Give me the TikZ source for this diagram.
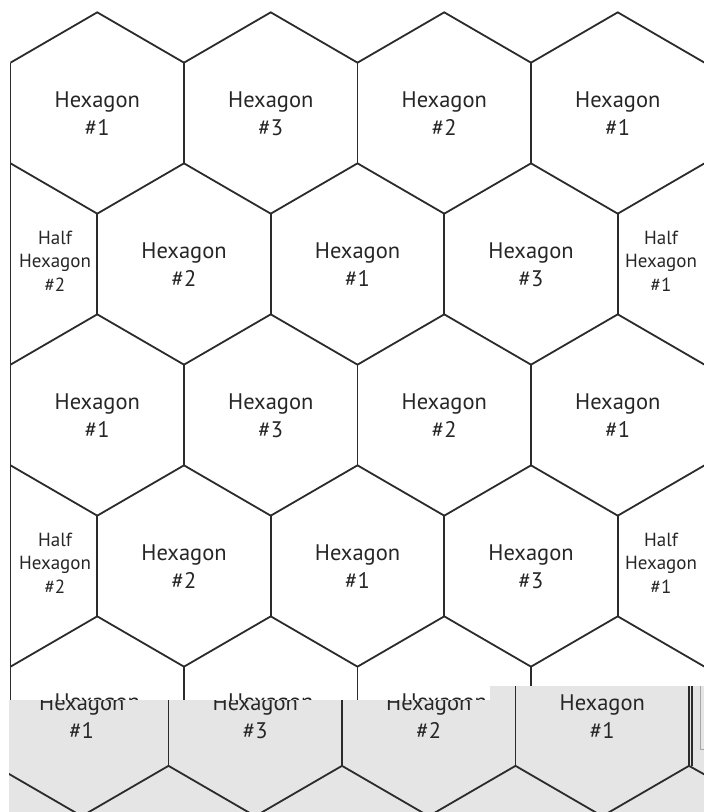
\documentclass[tikz,border=0pt]{standalone}
\usepackage{fontspec}
\setmainfont{PT Sans}
\definecolor{edge}{HTML}{2B2B2B}
\definecolor{txt}{HTML}{262626}
\definecolor{shot}{HTML}{E6E5E6}

\begin{document}
\begin{tikzpicture}[x=1pt,y=-1pt,
  hexlabel/.style={align=center,text=txt,inner sep=0pt,font=\fontsize{22.5}{28}\selectfont},
  halflabel/.style={align=center,text=txt,inner sep=0pt,font=\fontsize{19}{23.5}\selectfont},
  grid/.style={draw=edge,line width=1.8pt,line join=miter}]
\path[use as bounding box] (0,0) rectangle (704,812);
\clip (0,0) rectangle (704,812);
\begin{scope}
\draw[grid] (10.5,62.67)--(97.25,12.33)--(184,62.67)--(270.75,12.33)--(357.5,62.67)--(444.25,12.33)--(531,62.67)--(617.75,12.33)--(704.5,62.67);
\draw[grid] (10.5,163.33)--(97.25,213.67)--(184,163.33)--(270.75,213.67)--(357.5,163.33)--(444.25,213.67)--(531,163.33)--(617.75,213.67)--(704.5,163.33);
\draw[grid] (10.5,364.67)--(97.25,314.33)--(184,364.67)--(270.75,314.33)--(357.5,364.67)--(444.25,314.33)--(531,364.67)--(617.75,314.33)--(704.5,364.67);
\draw[grid] (10.5,465.33)--(97.25,515.67)--(184,465.33)--(270.75,515.67)--(357.5,465.33)--(444.25,515.67)--(531,465.33)--(617.75,515.67)--(704.5,465.33);
\draw[grid] (10.5,666.67)--(97.25,616.33)--(184,666.67)--(270.75,616.33)--(357.5,666.67)--(444.25,616.33)--(531,666.67)--(617.75,616.33)--(704.5,666.67);
\draw[grid] (10.5,62.67)--(10.5,812) (704.5,62.67)--(704.5,812);
\draw[grid] (184,62.67)--(184,163.33) (357.5,62.67)--(357.5,163.33) (531,62.67)--(531,163.33);
\draw[grid] (97.25,213.67)--(97.25,314.33) (270.75,213.67)--(270.75,314.33) (444.25,213.67)--(444.25,314.33) (617.75,213.67)--(617.75,314.33);
\draw[grid] (184,364.67)--(184,465.33) (357.5,364.67)--(357.5,465.33) (531,364.67)--(531,465.33);
\draw[grid] (97.25,515.67)--(97.25,616.33) (270.75,515.67)--(270.75,616.33) (444.25,515.67)--(444.25,616.33) (617.75,515.67)--(617.75,616.33);
\draw[grid] (184,666.67)--(184,767.33) (357.5,666.67)--(357.5,767.33) (531,666.67)--(531,767.33);
\node[hexlabel] (r1c1) at (97.25,114) {Hexagon\\\#1};
\node[hexlabel] (r1c2) at (270.75,114) {Hexagon\\\#3};
\node[hexlabel] (r1c3) at (444.25,114) {Hexagon\\\#2};
\node[hexlabel] (r1c4) at (617.75,114) {Hexagon\\\#1};
\node[halflabel] (r2h1) at (55,261) {Half\\Hexagon\\\#2};
\node[hexlabel] (r2c1) at (184,265) {Hexagon\\\#2};
\node[hexlabel] (r2c2) at (357.5,265) {Hexagon\\\#1};
\node[hexlabel] (r2c3) at (531,265) {Hexagon\\\#3};
\node[halflabel] (r2h2) at (661,261) {Half\\Hexagon\\\#1};
\node[hexlabel] (r3c1) at (97.25,416) {Hexagon\\\#1};
\node[hexlabel] (r3c2) at (270.75,416) {Hexagon\\\#3};
\node[hexlabel] (r3c3) at (444.25,416) {Hexagon\\\#2};
\node[hexlabel] (r3c4) at (617.75,416) {Hexagon\\\#1};
\node[halflabel] (r4h1) at (55,563) {Half\\Hexagon\\\#2};
\node[hexlabel] (r4c1) at (184,567) {Hexagon\\\#2};
\node[hexlabel] (r4c2) at (357.5,567) {Hexagon\\\#1};
\node[hexlabel] (r4c3) at (531,567) {Hexagon\\\#3};
\node[halflabel] (r4h2) at (661,563) {Half\\Hexagon\\\#1};
% tops of the row 5 words, cut by the strip
\node[hexlabel] (r5c1) at (97.25,704) {Hexagon};
\node[hexlabel] (r5c2) at (270.75,704) {Hexagon};
\node[hexlabel] (r5c3) at (444.25,704) {Hexagon};
\end{scope}
% pasted strip at the bottom
\fill[shot] (9,812)--(9,700)--(490,700)--(490,686)--(704,686)--(704,812)--cycle;
\begin{scope}
\clip (9,812)--(9,700)--(490,700)--(490,686)--(704,686)--(704,812)--cycle;
\begin{scope}[shift={(-15.5,-1.5)}]
\draw[grid] (10.5,666.67)--(97.25,616.33)--(184,666.67)--(270.75,616.33)--(357.5,666.67)--(444.25,616.33)--(531,666.67)--(617.75,616.33)--(704.5,666.67);
\draw[grid] (10.5,767.33)--(97.25,817.67)--(184,767.33)--(270.75,817.67)--(357.5,767.33)--(444.25,817.67)--(531,767.33)--(617.75,817.67)--(704.5,767.33)--(720,776);
\draw[grid] (184,666.67)--(184,767.33) (357.5,666.67)--(357.5,767.33) (531,666.67)--(531,767.33) (704.5,666.67)--(704.5,767.33);
\draw[grid] (707.5,686)--(707.5,767.33);
\node[hexlabel] (g5c1) at (97.25,718) {Hexagon\\\#1};
\node[hexlabel] (g5c2) at (270.75,718) {Hexagon\\\#3};
\node[hexlabel] (g5c3) at (444.25,718) {Hexagon\\\#2};
\node[hexlabel] (g5c4) at (617.75,718) {Hexagon\\\#1};
\end{scope}
\draw[black!35,line width=1pt] (700.5,686)--(700.5,749)--(704,749);
\end{scope}
\end{tikzpicture}
\end{document}
